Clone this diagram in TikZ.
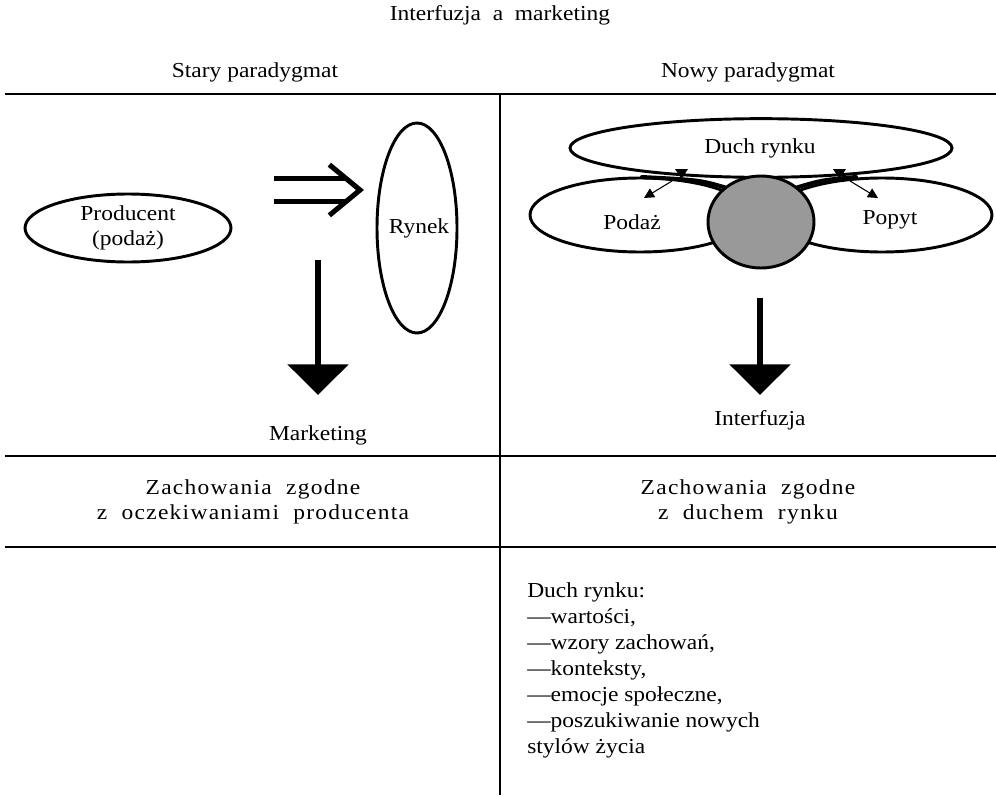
\documentclass[tikz,border=0pt]{standalone}
\usepackage{fontspec}
\setmainfont{Liberation Serif}[FakeStretch=1.1]
\newfontfamily\spacedfont{Liberation Serif}[FakeStretch=1.1,LetterSpace=6]
\usetikzlibrary{shapes.geometric,arrows.meta}

\begin{document}
\begin{tikzpicture}[x=0.75pt,y=-0.75pt,
  txt/.style={font=\fontsize{16}{18.75}\selectfont,align=center,inner sep=0pt},
  spaced/.style={font=\spacedfont\fontsize{16}{18.75}\selectfont,align=center,inner sep=0pt},
  oval/.style={draw,ellipse,line width=2.2pt,inner sep=0pt},
  rule/.style={line width=2.2pt},
  bigarrow/.style={line width=4.5pt,-{Triangle[length=23pt,width=45pt]}},
  thinarrow/.style={line width=0.8pt,-{Triangle[length=7.5pt,width=7.5pt]}},
  thickcurve/.style={line width=3pt,line cap=round}]
\useasboundingbox (0,0) rectangle (996,796);
% titles
\node[txt] (title) at (500,15) {Interfuzja\ \ a\ \ marketing};
\node[txt] (old) at (255,72) {Stary paradygmat};
\node[txt] (new) at (748,72) {Nowy paradygmat};
% table lines
\draw[rule] (5,94) -- (996,94);
\draw[rule] (5,456) -- (996,456);
\draw[rule] (5,547) -- (996,547);
\draw[rule] (500,94) -- (500,795);
% old paradigm
\node[oval,minimum width=154.5pt,minimum height=51pt] (prod) at (128,228) {};
\node[txt] at (prod) {Producent\\(podaż)};
\node[oval,minimum width=60pt,minimum height=157.5pt] (rynek) at (417,228) {};
\node[txt] at (419,228) {Rynek};
\coordinate (dstart) at (274,190);
\coordinate (dend) at (360,190);
\draw[line width=3.8pt] ([yshift=-8.6pt]dstart) -- ([yshift=-8.6pt,xshift=-10pt]dend);
\draw[line width=3.8pt] ([yshift=8.6pt]dstart) -- ([yshift=8.6pt,xshift=-10pt]dend);
\draw[line width=3.8pt,miter limit=4] ([xshift=-23pt,yshift=19pt]dend) -- (dend) -- ([xshift=-23pt,yshift=-19pt]dend);
\node[txt] (mkt) at (318,435) {Marketing};
\coordinate (mstart) at (318,260);
\coordinate (mend) at (318,395);
\draw[bigarrow] (mstart) -- (mend);
\node[spaced] (oldrule) at (253,502) {Zachowania\ \ zgodne\\z\ \ oczekiwaniami\ \ producenta};
% new paradigm
\node[oval,minimum width=286.5pt,minimum height=44pt] (duch) at (761,148) {};
\node[txt] at (760,148) {Duch rynku};
\node[oval,minimum width=165pt,minimum height=55.5pt] (podaz) at (640,215) {};
\node[txt] at (632,222) {Podaż};
\node[oval,minimum width=165pt,minimum height=55.5pt] (popyt) at (882,215) {};
\node[txt] at (890,220) {Popyt};
\coordinate (lend) at (642,177);
\coordinate (rend) at (856,177);
\draw[thickcurve] (727,188) .. controls (700,180) .. (lend);
\draw[thickcurve] (795,188) .. controls (822,180) .. (rend);
\node[draw,fill=black!40,ellipse,line width=2.2pt,minimum width=79.5pt,minimum height=69pt,inner sep=0pt] (core) at (761,222) {};
\fill (675,169) -- (688,169) -- (681.5,179) -- cycle;
\fill (833,169) -- (846,169) -- (839.5,179) -- cycle;
\coordinate (la) at (672,181);
\coordinate (lb) at (644,198);
\coordinate (ra) at (850,181);
\coordinate (rb) at (878,198);
\draw[thinarrow] (la) -- (lb);
\draw[thinarrow] (ra) -- (rb);
\node[txt] (interf) at (760,420) {Interfuzja};
\coordinate (istart) at (760,298);
\coordinate (iend) at (760,395);
\draw[bigarrow] (istart) -- (iend);
\node[spaced] (newrule) at (748,502) {Zachowania\ \ zgodne\\z\ \ duchem\ \ rynku};
\node[txt,align=left,anchor=north west,font=\fontsize{16}{19.5}\selectfont] (duchlist) at (527,582)
  {Duch rynku:\\—wartości,\\—wzory zachowań,\\—konteksty,\\—emocje społeczne,\\—poszukiwanie nowych\\stylów życia};
\end{tikzpicture}
\end{document}
